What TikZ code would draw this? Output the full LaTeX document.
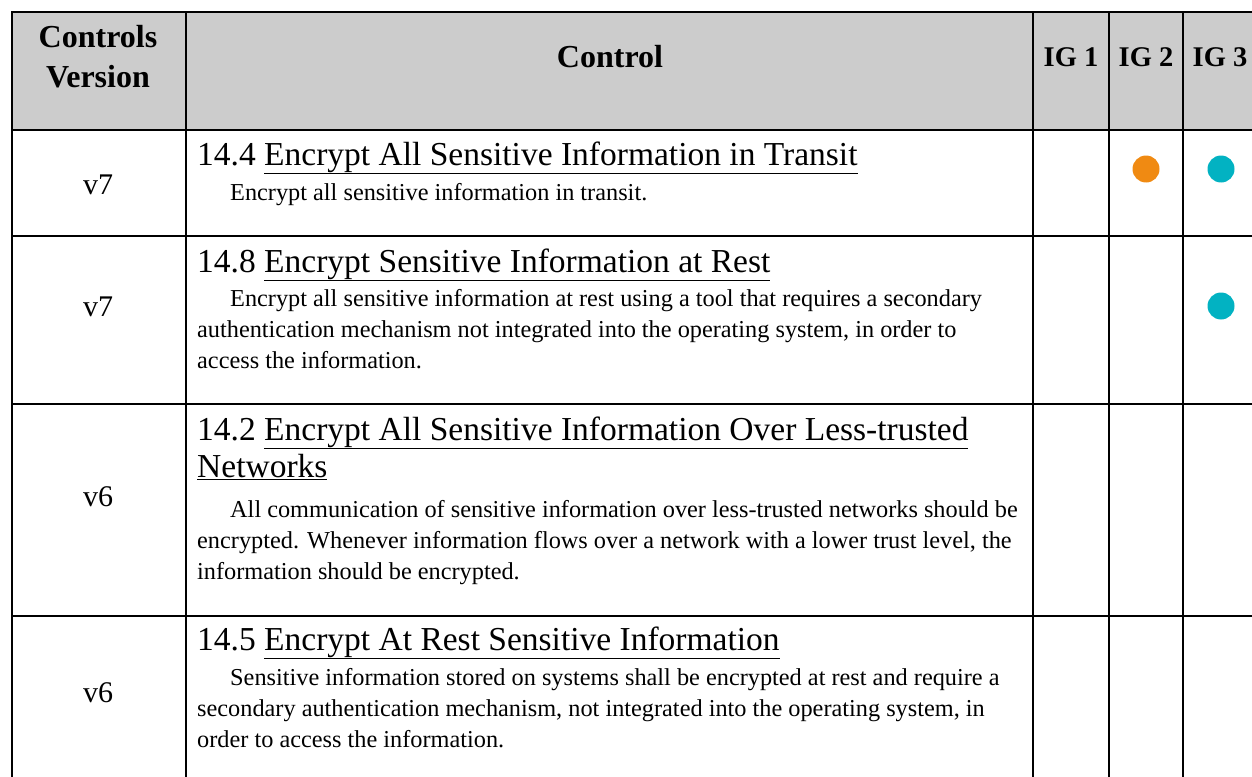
\documentclass[tikz,border=0pt]{standalone}
\usepackage{fontspec}
\setmainfont{Liberation Serif}
\usetikzlibrary{positioning}
\definecolor{hdrgray}{HTML}{CCCCCC}
\definecolor{igorange}{HTML}{F08A12}
\definecolor{igteal}{HTML}{02B2C2}

\begin{document}
\begin{tikzpicture}[x=1pt, y=-1pt,
    grid line/.style={line width=2.3pt},
    head/.style={font=\fontsize{32}{40}\selectfont\bfseries, align=center, inner sep=0pt},
    ig head/.style={font=\fontsize{28.5}{34}\selectfont\bfseries, inner sep=0pt},
    ver/.style={font=\fontsize{30}{34}\selectfont, inner sep=0pt},
    ctltitle/.style={font=\fontsize{33.5}{37}\selectfont, anchor=base west, inner sep=0pt},
    ctldesc/.style={font=\fontsize{24.3}{31}\selectfont, anchor=base west, inner sep=0pt},
    ig dot/.style={circle, minimum size=27pt, inner sep=0pt},
    ]
  \useasboundingbox (0,0) rectangle (1252,776);

  % header band and grid
  \fill[hdrgray] (12,12) rectangle (1262,130);
  \draw[grid line] (1262,12) -- (12,12) -- (12,790);
  \foreach \y in {130,236,404,616} \draw[grid line] (12,\y) -- (1262,\y);
  \foreach \x in {186,1033,1109,1183} \draw[grid line] (\x,12) -- (\x,790);

  % header
  \node[head] (hver) at (98,57) {Controls\\Version};
  \node[head] (hctl) at (610,57) {Control};
  \node[ig head] (hig1) at (1071,57) {IG 1};
  \node[ig head] (hig2) at (1146,57) {IG 2};
  \node[ig head] (hig3) at (1220,57) {IG 3};

  % versions
  \node[ver] (v1) at (98,185) {v7};
  \node[ver] (v2) at (98,307) {v7};
  \node[ver] (v3) at (98,497) {v6};
  \node[ver] (v4) at (98,693) {v6};

  % controls
  \node[ctltitle] (t1) at (197,165) {14.4 \underline{Encrypt All Sensitive Information in Transit}};
  \node[ctldesc] (d1) at (197,200) {\hspace*{33pt}Encrypt all sensitive information in transit.};

  \node[ctltitle] (t2) at (197,272) {14.8 \underline{Encrypt Sensitive Information at Rest}};
  \node[ctldesc] (d2) at (197,306) {\vtop{
    \hbox{\hspace*{33pt}Encrypt all sensitive information at rest using a tool that requires a secondary}
    \hbox{authentication mechanism not integrated into the operating system, in order to}
    \hbox{access the information.}}};

  \node[ctltitle] (t3) at (197,440) {\vtop{
    \hbox{14.2 \underline{Encrypt All Sensitive Information Over Less-trusted}}
    \hbox{\underline{Networks}}}};
  \node[ctldesc] (d3) at (197,517) {\vtop{
    \hbox{\hspace*{33pt}All communication of sensitive information over less-trusted networks should be}
    \hbox{encrypted. Whenever information flows over a network with a lower trust level, the}
    \hbox{information should be encrypted.}}};

  \node[ctltitle] (t4) at (197,650) {14.5 \underline{Encrypt At Rest Sensitive Information}};
  \node[ctldesc] (d4) at (197,685) {\vtop{
    \hbox{\hspace*{33pt}Sensitive information stored on systems shall be encrypted at rest and require a}
    \hbox{secondary authentication mechanism, not integrated into the operating system, in}
    \hbox{order to access the information.}}};

  % implementation group marks
  \node[ig dot, fill=igorange] (r1ig2) at (1146,169) {};
  \node[ig dot, fill=igteal] (r1ig3) at (1221,169) {};
  \node[ig dot, fill=igteal] (r2ig3) at (1221,306) {};
\end{tikzpicture}
\end{document}
